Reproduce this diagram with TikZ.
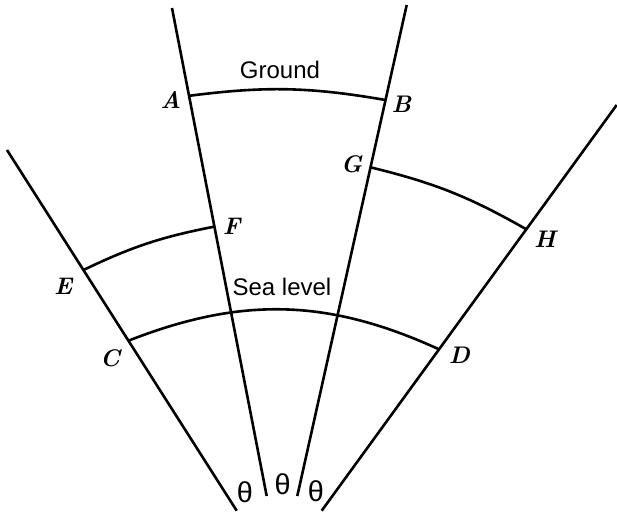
\documentclass[tikz,border=0pt]{standalone}
\usepackage{fontspec}
\setsansfont{Liberation Sans}
\usepackage{tikz}
\tikzset{ray/.style={line width=1.3pt}, level/.style={line width=1.3pt}, lbl/.style={font=\large\bfseries\itshape}, txt/.style={font=\sffamily\large}, ang/.style={font=\sffamily\Large}}

\begin{document}
\begin{tikzpicture}[x=0.5pt,y=-0.5pt]
\useasboundingbox (0,0) rectangle (617,514);
\coordinate (t1) at (7,150);     \coordinate (b1) at (236.7,510.7);
\coordinate (t2) at (172,8);     \coordinate (b2) at (266.7,496);
\coordinate (t3) at (406.7,5);   \coordinate (b3) at (297.3,496);
\coordinate (t4) at (616.7,105); \coordinate (b4) at (321.7,510.7);
\draw[ray] (t1) -- (b1) coordinate[pos=0.3327] (E) coordinate[pos=0.5287] (C);
\draw[ray] (t2) -- (b2) coordinate[pos=0.180] (A) coordinate[pos=0.448] (F);
\draw[ray] (t3) -- (b3) coordinate[pos=0.1935] (B) coordinate[pos=0.3306] (G);
\draw[ray] (t4) -- (b4) coordinate[pos=0.3064] (H) coordinate[pos=0.6022] (D);
% arcs
\draw[level] (A) to[bend left=8.6] (B);
\draw[level] (E) to[bend left=7.3] (F);
\draw[level] (G) to[bend left=8] (H);
\draw[level] (C) to[bend left=23] (D);
\node[lbl] (lA) at (170.7,100) {A};
\node[lbl] (lB) at (401.5,104) {B};
\node[lbl] (lC) at (110,358.3) {C};
\node[lbl] (lD) at (459.3,355) {D};
\node[lbl] (lE) at (63.3,286.7) {E};
\node[lbl] (lF) at (231.7,226.7) {F};
\node[lbl] (lG) at (351.7,164) {G};
\node[lbl] (lH) at (545,239.3) {H};
\node[txt] (ground) at (280,70) {Ground};
\node[txt] (sea) at (282,287) {Sea level};
\node[ang] (th1) at (245,492.7) {θ};
\node[ang] (th2) at (282.7,484) {θ};
\node[ang] (th3) at (316,491.7) {θ};
\end{tikzpicture}
\end{document}
